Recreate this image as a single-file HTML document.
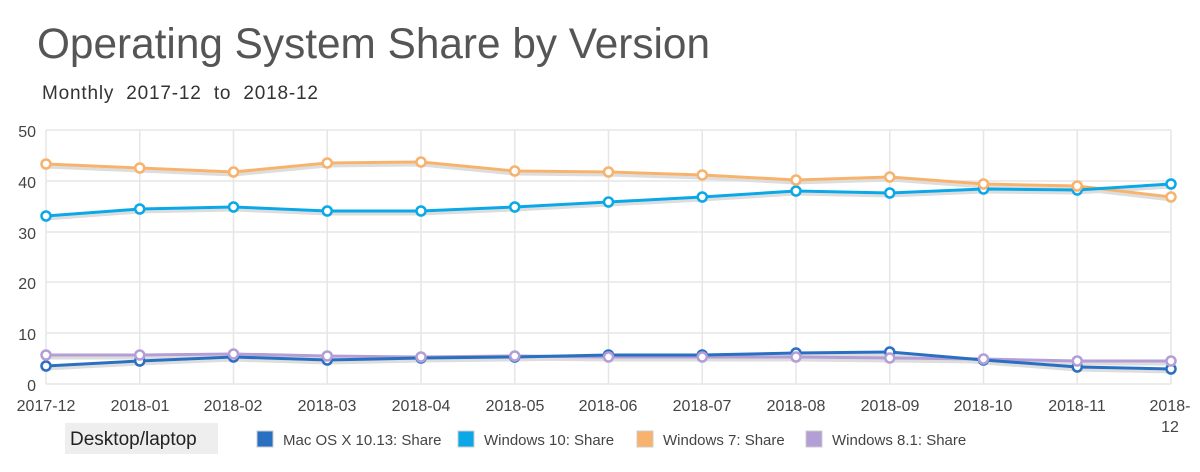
<!DOCTYPE html>
<html><head><style>
body{margin:0;width:1200px;height:467px;background:#fff;overflow:hidden;font-family:"Liberation Sans",sans-serif}
</style></head><body>
<svg width="1200" height="467" xmlns="http://www.w3.org/2000/svg" font-family="Liberation Sans, sans-serif">
<text x="37" y="58" font-size="43" fill="#555" textLength="673" lengthAdjust="spacingAndGlyphs">Operating System Share by Version</text>
<text x="42" y="99" font-size="19" fill="#333" textLength="276" xml:space="preserve">Monthly  2017-12  to  2018-12</text>
<g stroke="#e6e6e6" stroke-width="1.5">
<line x1="46" x2="1171" y1="130" y2="130"/><line x1="46" x2="1171" y1="181" y2="181"/><line x1="46" x2="1171" y1="232" y2="232"/><line x1="46" x2="1171" y1="282" y2="282"/><line x1="46" x2="1171" y1="333" y2="333"/><line x1="46" x2="1171" y1="384" y2="384"/>
<line x1="46" x2="46" y1="130" y2="384"/><line x1="139.75" x2="139.75" y1="130" y2="384"/><line x1="233.5" x2="233.5" y1="130" y2="384"/><line x1="327.25" x2="327.25" y1="130" y2="384"/><line x1="421" x2="421" y1="130" y2="384"/><line x1="514.75" x2="514.75" y1="130" y2="384"/><line x1="608.5" x2="608.5" y1="130" y2="384"/><line x1="702.25" x2="702.25" y1="130" y2="384"/><line x1="796" x2="796" y1="130" y2="384"/><line x1="889.75" x2="889.75" y1="130" y2="384"/><line x1="983.5" x2="983.5" y1="130" y2="384"/><line x1="1077.25" x2="1077.25" y1="130" y2="384"/><line x1="1171" x2="1171" y1="130" y2="384"/>
</g>
<g font-size="16" fill="#444" text-anchor="end">
<text x="36" y="137">50</text><text x="36" y="188">40</text><text x="36" y="239">30</text><text x="36" y="289">20</text><text x="36" y="340">10</text><text x="36" y="391">0</text>
</g>
<g font-size="16" fill="#444" text-anchor="middle">
<text x="46" y="411">2017-12</text><text x="140" y="411">2018-01</text><text x="233" y="411">2018-02</text><text x="327" y="411">2018-03</text><text x="421" y="411">2018-04</text><text x="515" y="411">2018-05</text><text x="608" y="411">2018-06</text><text x="702" y="411">2018-07</text><text x="796" y="411">2018-08</text><text x="890" y="411">2018-09</text><text x="983" y="411">2018-10</text><text x="1077" y="411">2018-11</text><text x="1170" y="411">2018-</text><text x="1170" y="432">12</text>
</g>
<g fill="none" stroke-width="3" stroke-linejoin="round">
<polyline stroke="#ddd" transform="translate(0,3)" points="46,164 139.75,168 233.5,172 327.25,163 421,162 514.75,171 608.5,172 702.25,175 796,180 889.75,177 983.5,184 1077.25,186 1171,197"/>
<polyline stroke="#ddd" transform="translate(0,3)" points="46,216 139.75,209 233.5,207 327.25,211 421,211 514.75,207 608.5,202 702.25,197 796,191 889.75,193 983.5,189 1077.25,190 1171,184"/>
<polyline stroke="#ddd" transform="translate(0,3)" points="46,355 139.75,355 233.5,354 327.25,356 421,357 514.75,356 608.5,357 702.25,357 796,357 889.75,358 983.5,359 1077.25,361 1171,361"/>
<polyline stroke="#ddd" transform="translate(0,3)" points="46,366 139.75,361 233.5,357 327.25,360 421,358 514.75,357 608.5,355 702.25,355 796,353 889.75,352 983.5,360 1077.25,367 1171,369"/>
<polyline stroke="#f7b36e" points="46,164 139.75,168 233.5,172 327.25,163 421,162 514.75,171 608.5,172 702.25,175 796,180 889.75,177 983.5,184 1077.25,186 1171,197"/>
<polyline stroke="#0aa8e6" points="46,216 139.75,209 233.5,207 327.25,211 421,211 514.75,207 608.5,202 702.25,197 796,191 889.75,193 983.5,189 1077.25,190 1171,184"/>
<polyline stroke="#b39ed6" points="46,355 139.75,355 233.5,354 327.25,356 421,357 514.75,356 608.5,357 702.25,357 796,357 889.75,358 983.5,359 1077.25,361 1171,361"/>
<polyline stroke="#2a70c2" points="46,366 139.75,361 233.5,357 327.25,360 421,358 514.75,357 608.5,355 702.25,355 796,353 889.75,352 983.5,360 1077.25,367 1171,369"/>
</g>
<g fill="#fff" stroke-width="2.5">
<g stroke="#2a70c2"><circle cx="46" cy="366" r="4.5"/><circle cx="139.75" cy="361" r="4.5"/><circle cx="233.5" cy="357" r="4.5"/><circle cx="327.25" cy="360" r="4.5"/><circle cx="421" cy="358" r="4.5"/><circle cx="514.75" cy="357" r="4.5"/><circle cx="608.5" cy="355" r="4.5"/><circle cx="702.25" cy="355" r="4.5"/><circle cx="796" cy="353" r="4.5"/><circle cx="889.75" cy="352" r="4.5"/><circle cx="983.5" cy="360" r="4.5"/><circle cx="1077.25" cy="367" r="4.5"/><circle cx="1171" cy="369" r="4.5"/></g>
<g stroke="#b39ed6"><circle cx="46" cy="355" r="4.5"/><circle cx="139.75" cy="355" r="4.5"/><circle cx="233.5" cy="354" r="4.5"/><circle cx="327.25" cy="356" r="4.5"/><circle cx="421" cy="357" r="4.5"/><circle cx="514.75" cy="356" r="4.5"/><circle cx="608.5" cy="357" r="4.5"/><circle cx="702.25" cy="357" r="4.5"/><circle cx="796" cy="357" r="4.5"/><circle cx="889.75" cy="358" r="4.5"/><circle cx="983.5" cy="359" r="4.5"/><circle cx="1077.25" cy="361" r="4.5"/><circle cx="1171" cy="361" r="4.5"/></g>
<g stroke="#0aa8e6"><circle cx="46" cy="216" r="4.5"/><circle cx="139.75" cy="209" r="4.5"/><circle cx="233.5" cy="207" r="4.5"/><circle cx="327.25" cy="211" r="4.5"/><circle cx="421" cy="211" r="4.5"/><circle cx="514.75" cy="207" r="4.5"/><circle cx="608.5" cy="202" r="4.5"/><circle cx="702.25" cy="197" r="4.5"/><circle cx="796" cy="191" r="4.5"/><circle cx="889.75" cy="193" r="4.5"/><circle cx="983.5" cy="189" r="4.5"/><circle cx="1077.25" cy="190" r="4.5"/><circle cx="1171" cy="184" r="4.5"/></g>
<g stroke="#f7b36e"><circle cx="46" cy="164" r="4.5"/><circle cx="139.75" cy="168" r="4.5"/><circle cx="233.5" cy="172" r="4.5"/><circle cx="327.25" cy="163" r="4.5"/><circle cx="421" cy="162" r="4.5"/><circle cx="514.75" cy="171" r="4.5"/><circle cx="608.5" cy="172" r="4.5"/><circle cx="702.25" cy="175" r="4.5"/><circle cx="796" cy="180" r="4.5"/><circle cx="889.75" cy="177" r="4.5"/><circle cx="983.5" cy="184" r="4.5"/><circle cx="1077.25" cy="186" r="4.5"/><circle cx="1171" cy="197" r="4.5"/></g>
</g>
<rect x="65" y="423" width="153" height="31" fill="#eee"/>
<text x="70" y="445" font-size="19" fill="#222">Desktop/laptop</text>
<g font-size="15" fill="#444">
<rect x="257" y="431" width="16" height="16" fill="#2a70c2" stroke="#ccc"/><text x="283" y="445">Mac OS X 10.13: Share</text>
<rect x="458" y="431" width="16" height="16" fill="#0aa8e6" stroke="#ccc"/><text x="484" y="445">Windows 10: Share</text>
<rect x="637" y="431" width="16" height="16" fill="#f7b36e" stroke="#ccc"/><text x="663" y="445">Windows 7: Share</text>
<rect x="806" y="431" width="16" height="16" fill="#b39ed6" stroke="#ccc"/><text x="832" y="445">Windows 8.1: Share</text>
</g>
</svg>
</body></html>
